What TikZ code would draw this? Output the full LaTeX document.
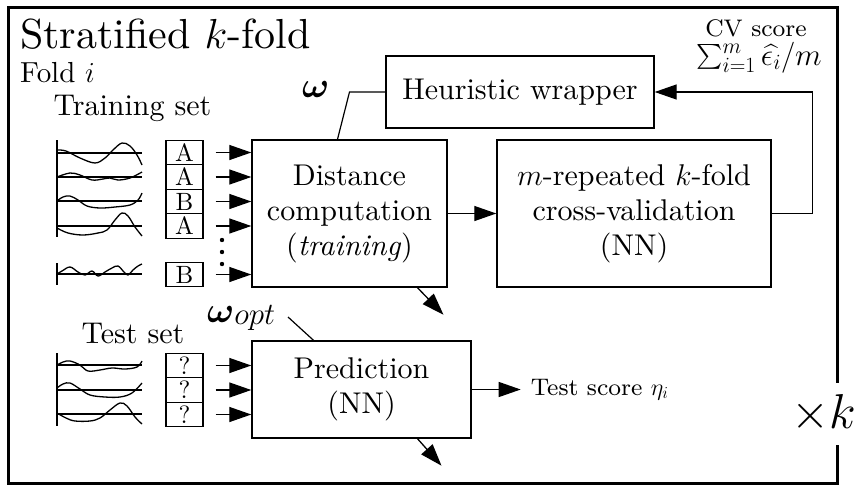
\RequirePackage{fix-cm}
\documentclass[tikz,border=0pt]{standalone}
\usepackage{amsmath}
\usepackage{bm}
\usepackage{fontspec}
% keep the 10pt design of Latin Modern at every size
\setmainfont{lmroman10-regular.otf}[
  ItalicFont=lmroman10-italic.otf,
  BoldFont=lmroman10-bold.otf,
  BoldItalicFont=lmroman10-bolditalic.otf]
\newfontfamily\eightrm{lmroman8-regular.otf}
\usetikzlibrary{arrows.meta,calc}

\tikzset{
  box/.style={draw, line width=1.4pt, inner sep=0pt, align=center,
    font=\fontsize{30}{35}\selectfont},
  tag/.style={draw, line width=1.2pt, minimum width=37pt, minimum height=24.5pt,
    inner sep=0pt, font=\fontsize{25}{25}\selectfont},
  arr/.style={line width=1.3pt, -{Triangle[length=22pt,width=15pt]}},
  conn/.style={line width=1.2pt},
  series/.style={line width=1.3pt},
  axis/.style={line width=1.4pt},
  note/.style={inner sep=0pt, font=\eightrm\fontsize{24}{24}\selectfont},
}

\begin{document}
\begin{tikzpicture}[x=1pt,y=-1pt]
\useasboundingbox (0,0) rectangle (854,488);

% outer frame of the k-fold loop
\draw[line width=3pt] (8,7) rectangle (837,483);

% titles
\node[anchor=base west, inner sep=0pt, font=\fontsize{42}{42}\selectfont] (title) at (20,48) {Stratified $k$-fold};
\node[anchor=base west, inner sep=0pt, font=\fontsize{29}{29}\selectfont] (fold) at (20,82) {Fold $i$};
\node[anchor=base, inner sep=0pt, font=\fontsize{30}{30}\selectfont] (trainlbl) at (132.5,115) {Training set};
\node[anchor=base, inner sep=0pt, font=\fontsize{30}{30}\selectfont] (testlbl) at (133,343) {Test set};

% main processing blocks
\node[box, minimum width=195pt, minimum height=147pt] (dist) at (349.5,213.5)
  {Distance\\computation\\(\textit{training})};
\node[box, minimum width=268pt, minimum height=72pt] (heur) at (520,92) {Heuristic wrapper};
\node[box, minimum width=274pt, minimum height=147pt] (cv) at (634,213.5)
  {$m$-repeated $k$-fold\\cross-validation\\(NN)};
\node[box, minimum width=219pt, minimum height=97pt] (pred) at (361.5,389.5)
  {Prediction\\(NN)};

% training time series
\draw[axis] (57,140) -- (57,237);
\foreach \y in {153,177,201,226} \draw[conn] (57,\y) -- (142,\y);
\draw[series] plot[smooth, tension=0.6] coordinates {(57,150) (66,151) (80,158) (95,163) (105,158) (113,150) (122,143) (130,146) (137,155) (142,165)};
\draw[series] plot[smooth, tension=0.6] coordinates {(57,177) (70,173) (80,175) (92,180) (103,179) (110,178) (118,180) (130,178) (142,172)};
\draw[series] plot[smooth, tension=0.6] coordinates {(57,201) (63,197) (70,196) (78,200) (87,206) (100,208) (115,207) (130,205) (138,200) (142,193)};
\draw[series] plot[smooth, tension=0.6] coordinates {(57,228) (68,233) (83,235) (98,233) (107,230) (115,220) (122,213) (128,216) (135,227) (142,236)};
\draw[axis] (57,263) -- (57,285);
\draw[conn] (57,274) -- (142,274);
\draw[series] plot[smooth, tension=0.6] coordinates {(57,274) (62,271) (70,267) (78,272) (85,275) (92,271) (98,276) (105,272) (112,268) (118,266) (124,272) (128,275) (133,270) (138,266) (142,264)};

% training class labels
\node[tag] (a1) at (184.5,152.5) {A};
\node[tag] (a2) at (184.5,177) {A};
\node[tag] (b1) at (184.5,201.5) {B};
\node[tag] (a3) at (184.5,226) {A};
\node[tag] (b2) at (184.5,274.5) {B};
\foreach \t in {a1,a2,b1,a3,b2}
  \draw[arr] ([xshift=12pt]\t.east) -- (\t.east -| dist.west);
\foreach \y in {240,252,264} \fill (222,\y) circle (2.2pt);

% test time series
\draw[axis] (57,353) -- (57,426);
\foreach \y in {365,390,414} \draw[conn] (57,\y) -- (142,\y);
\draw[series] plot[smooth, tension=0.6] coordinates {(57,365) (63,362) (70,361) (80,365) (88,371) (100,370) (112,368) (125,369) (137,367) (142,361)};
\draw[series] plot[smooth, tension=0.6] coordinates {(57,388) (63,384) (70,383) (80,389) (90,395) (105,397) (120,397) (132,393) (142,383)};
\draw[series] plot[smooth, tension=0.6] coordinates {(57,413) (66,418) (75,421) (90,421) (100,418) (110,410) (120,403) (127,406) (135,417) (142,424)};

% test labels (unknown)
\node[tag] (q1) at (184.5,365.5) {?};
\node[tag] (q2) at (184.5,390) {?};
\node[tag] (q3) at (184.5,414.5) {?};
\foreach \t in {q1,q2,q3}
  \draw[arr] ([xshift=12pt]\t.east) -- (\t.east -| pred.west);

% weights from the wrapper
\node[anchor=base west, inner sep=0pt, font=\fontsize{36}{36}\selectfont] (omega) at (302,97) {$\bm{\omega}$};
\draw[conn] ([xshift=-12pt]dist.north) -- (dist.north |- heur.west) -- (heur.west);
\node[anchor=base west, inner sep=0pt, font=\fontsize{36}{36}\selectfont] (omegaopt) at (207,322)
  {$\bm{\omega}$\raisebox{-2pt}{\fontsize{31}{31}\selectfont$opt$}};
\coordinate (wopt) at (288,317);
\draw[conn] (wopt) -- ([xshift=-48pt]pred.north);

% flow between blocks
\draw[arr] (dist.east) -- (cv.west);
\draw[arr] (cv.east) -- ++(41,0) |- (heur.east);
\node[note, anchor=base] (cvscore) at (756,36) {CV score};
\node[inner sep=0pt, anchor=base, font=\fontsize{31}{31}\selectfont] (cvsum) at (759,65) {$\sum_{i=1}^{m}\widehat{\epsilon_i}/m$};
\draw[arr] ([xshift=68pt]dist.south) -- ++(26,27);
\draw[arr] ([xshift=56pt]pred.south) -- ++(24,27);
\draw[arr] (pred.east) -- ++(49,0) coordinate (tsend);
\node[note, anchor=west] (tscore) at ([xshift=10pt]tsend) {Test score $\eta_i$};

% repetition count on the frame
\node[fill=white, inner sep=0pt, minimum height=62pt, font=\fontsize{49}{49}\selectfont] (times) at (824,414) {$\times k$};
\end{tikzpicture}
\end{document}
